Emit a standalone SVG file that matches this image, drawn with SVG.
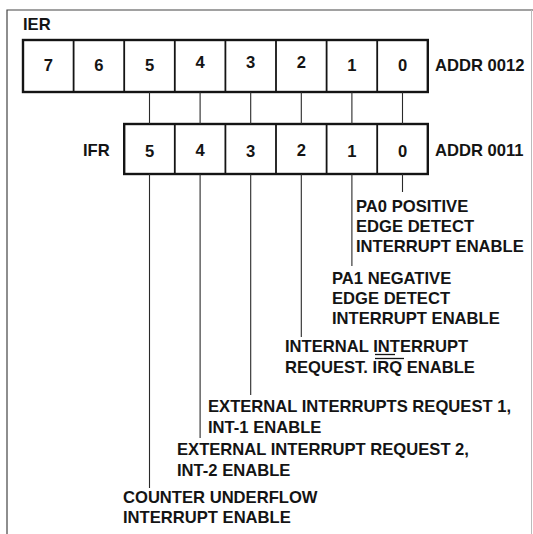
<svg xmlns="http://www.w3.org/2000/svg" width="533" height="534" viewBox="0 0 533 534">
<style>
text{font-family:"Liberation Sans",Arial,sans-serif;font-weight:bold;font-size:16.6px;fill:#141414}
.d{text-anchor:middle}
.box{fill:#fff;stroke:#141414;stroke-width:2.4}
.div{stroke:#141414;stroke-width:1.8}
.c{stroke:#2a2a2a;stroke-width:1.1;fill:none}
.fr{stroke:#444;stroke-width:1.2;fill:none}
</style>
<rect width="533" height="534" fill="#fff"/>
<g id="frame">
<path class="fr" d="M7,534 V10 H533"/>
<line x1="531.5" y1="10" x2="531.5" y2="534" stroke="#bbb" stroke-width="1"/>
</g>
<g id="ier">
<text x="23" y="30">IER</text>
<rect class="box" x="23" y="40" width="404.8" height="52"/>
<path class="div" d="M73.6,40V92M124.2,40V92M174.8,40V92M225.4,40V92M276,40V92M326.6,40V92M377.2,40V92"/>
<text class="d" x="48.3" y="71">7</text>
<text class="d" x="98.9" y="71">6</text>
<text class="d" x="149.5" y="71">5</text>
<text class="d" x="200.1" y="68">4</text>
<text class="d" x="250.7" y="68">3</text>
<text class="d" x="301.3" y="68">2</text>
<text class="d" x="351.9" y="71">1</text>
<text class="d" x="402.5" y="71">0</text>
<text x="435" y="71">ADDR 0012</text>
</g>
<g id="ifr">
<text x="83" y="156">IFR</text>
<rect class="box" x="124.2" y="124" width="303.6" height="50"/>
<path class="div" d="M174.8,124V174M225.4,124V174M276,124V174M326.6,124V174M377.2,124V174"/>
<text class="d" x="149.5" y="157">5</text>
<text class="d" x="200.1" y="156">4</text>
<text class="d" x="250.7" y="157">3</text>
<text class="d" x="301.3" y="156">2</text>
<text class="d" x="351.9" y="157">1</text>
<text class="d" x="402.5" y="157">0</text>
<text x="435" y="156">ADDR 0011</text>
</g>
<g id="connectors">
<path class="c" d="M149.5,92V124M200.1,92V124M250.7,92V124M301.3,92V124M351.9,92V124M402.5,92V124"/>
<path class="c" d="M402.5,174V192M351.9,174V266M301.3,174V337M250.7,174V395M200.1,174V438M149.5,174V488"/>
</g>
<g id="bit0">
<text x="356" y="212">PA0 POSITIVE</text>
<text x="356" y="232">EDGE DETECT</text>
<text x="356" y="252">INTERRUPT ENABLE</text>
</g>
<g id="bit1">
<text x="332" y="284">PA1 NEGATIVE</text>
<text x="332" y="304">EDGE DETECT</text>
<text x="332" y="324">INTERRUPT ENABLE</text>
</g>
<g id="bit2">
<text x="285" y="352">INTERNAL INTERRUPT</text>
<text x="285" y="373">REQUEST. IRQ ENABLE</text>
<line x1="375" y1="354.5" x2="395" y2="354.5" stroke="#141414" stroke-width="1.3"/>
<line x1="375" y1="358.5" x2="404" y2="358.5" stroke="#141414" stroke-width="1.3"/>
</g>
<g id="bit3">
<text x="208" y="412">EXTERNAL INTERRUPTS REQUEST 1,</text>
<text x="208" y="433">INT-1 ENABLE</text>
</g>
<g id="bit4">
<text x="177" y="455">EXTERNAL INTERRUPT REQUEST 2,</text>
<text x="177" y="476">INT-2 ENABLE</text>
</g>
<g id="bit5">
<text x="123" y="503">COUNTER UNDERFLOW</text>
<text x="123" y="523">INTERRUPT ENABLE</text>
</g>
</svg>
